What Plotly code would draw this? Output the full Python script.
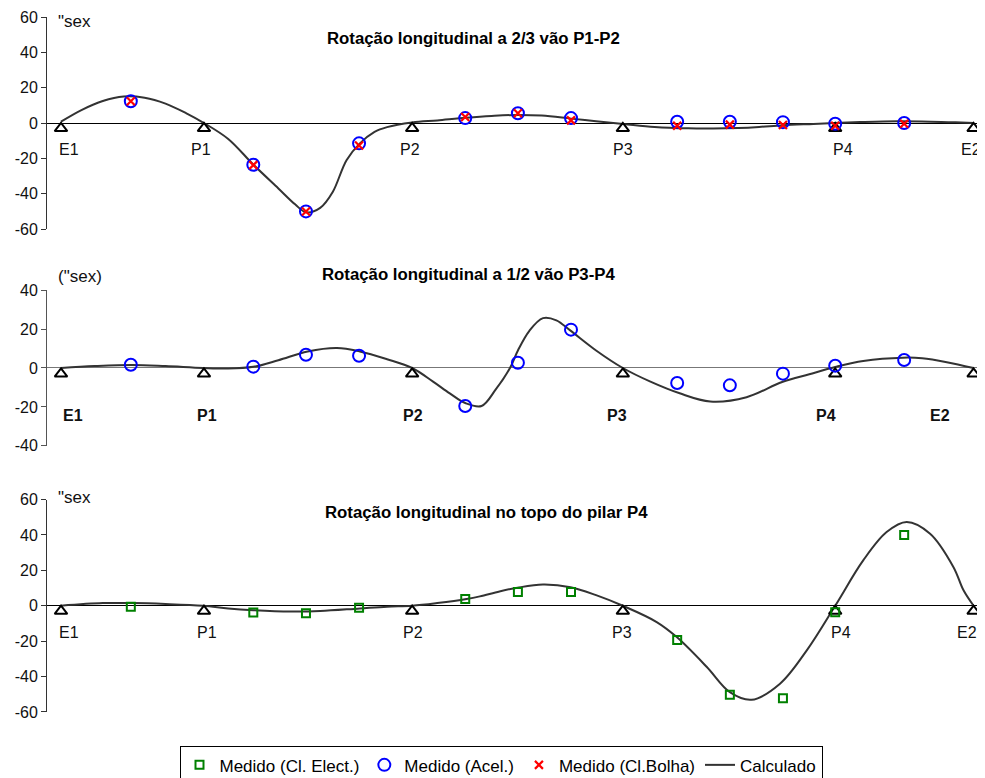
import plotly.graph_objects as go

# ---------------- data ----------------
support_names = ["E1", "P1", "P2", "P3", "P4", "E2"]
support_x = [0, 34.2, 84, 134.4, 185.2, 218.3]
support_marker_y = [-3, -3, -3, -3, -3, -3]

meas_x = [16.7, 46, 58.6, 71.3, 96.7, 109.3, 122, 147.4, 160, 172.7, 185.2, 201.7]

# panel 1 : rotação a 2/3 vão P1-P2
acel1 = [12.3, -23.6, -50, -11.5, 2.8, 5.5, 2.8, 0.7, 0.7, 0.5, -0.4, 0]
bolha1 = [12.3, -23.8, -50, -12.7, 3.4, 5.5, 1.5, -1.5, -0.9, -1.1, -1.5, -0.4]
calc1_x = [0, 5, 10, 15, 20, 25, 30, 34, 40, 46, 52, 56, 58.6, 62, 65, 68.3, 71.5, 75, 78, 84,
           90, 97, 103, 109, 115, 122, 128, 134.5, 142, 150, 156, 162, 167, 172.7, 180, 185,
           192, 200, 208, 214, 218.3]
calc1_y = [0.8, 7.5, 12.5, 15, 14.3, 11, 5.5, 0.3, -9, -23.5, -37, -46, -50.5, -48, -39, -21,
           -11.5, -5, -2.3, 0.3, 1.5, 3, 4, 4.6, 4.2, 2.5, 1, -0.5, -2.2, -3, -3.1, -2.8, -2.2,
           -1.2, -0.5, 0, 0.6, 1.0, 0.8, 0.4, 0]

# panel 2 : rotação a 1/2 vão P3-P4
acel2 = [1.7, 0.7, 6.8, 6.3, -19.5, 2.7, 19.7, -7.7, -8.9, -2.9, 1.2, 4.1]
calc2_x = [0, 8, 17, 25, 34, 40, 46, 52, 59, 66, 71.5, 78, 84, 89, 93, 96.7, 100.6, 104, 107.4,
           109.3, 112, 115.3, 118.5, 121.8, 128, 134.4, 141, 148, 155.3, 164, 172.5, 179, 185.2,
           191.9, 201.4, 206, 211.9, 218.3]
calc2_y = [0, 1.0, 1.6, 1.0, 0, -0.3, 0.6, 4, 8.5, 10.3, 8.5, 4.5, 0, -7, -13, -18, -19.5, -11, 0,
           9, 19, 25.6, 24.5, 19.3, 9, 0, -7, -13, -17.2, -15, -7.2, -3.2, 0.5, 3.6, 5.3, 5, 3, 0]

# panel 3 : rotação no topo do pilar P4
elect3 = [-0.6, -3.8, -4.3, -1.1, 3.8, 7.7, 7.7, -19.4, -50.3, -52.3, -3.6, 39.9]
calc3_x = [0, 10, 17, 25, 34, 40, 46, 55, 62, 71.5, 78, 84, 90, 97, 100.2, 104.9, 109.2, 115.3,
           121.9, 128, 134.4, 142.5, 147.3, 154.5, 160, 165.2, 172, 178.4, 185.2, 191.9, 197.5,
           202.3, 207.9, 213.5, 215.9, 218.3]
calc3_y = [0, 1.5, 1.5, 1, 0, -1.5, -2.5, -3.3, -3, -1.5, -0.5, 0, 1.5, 3.8, 5.3, 8.1, 10.2, 12,
           10.5, 6, 0, -9.2, -17.7, -34.6, -48.8, -53.1, -44, -25.2, 0, 25.6, 41.6, 47.3, 40.7,
           21.8, 8.7, 0]

titles = ["Rotação longitudinal a 2/3 vão P1-P2",
          "Rotação longitudinal a 1/2 vão P3-P4",
          "Rotação longitudinal no topo do pilar P4"]
unit_labels = ['"sex', '("sex)', '"sex']

ticks_60 = [60, 40, 20, 0, -20, -40, -60]
ticks_60_text = ["60", "40", "20", "0", "-20", "-40", "-60"]
ticks_40 = [40, 20, 0, -20, -40]
ticks_40_text = ["40", "20", "0", "-20", "-40"]

# label positions (layout)
label_x = [
    [1.9, 33.5, 83.5, 134.4, 187.1, 217.6],
    [2.75, 35, 84.2, 132.9, 183, 210.3],
    [2, 35, 84.2, 134.2, 186.7, 216.7],
]
label_y = [-15, -24.3, -15]

# ---------------- figure ----------------
FONT = "Arial, Liberation Sans, sans-serif"
OFF = 8                       # default page body margin
W, H = 985 - OFF, 778 - OFF
PL, PR, PT, PB = 47, 979, 17, 711.7   # plot area in reference pixels
ML, MR, MT, MB = PL - OFF, W - (PR - OFF), PT - OFF, H - (PB - OFF)
plot_h = PB - PT
plot_w = PR - PL


def py(px):  # reference pixel y -> paper fraction
    return (PB - px) / plot_h


def pxx(px):
    return (px - PL) / plot_w


domains = [[py(229), 1.0], [py(445.7), py(290)], [0.0, py(499.3)]]

fig = go.Figure()

line_style = dict(color="#333333", width=2, shape="spline", smoothing=1.0)

calc_sets = [(calc1_x, calc1_y), (calc2_x, calc2_y), (calc3_x, calc3_y)]
for i, (cx, cy) in enumerate(calc_sets):
    ax = "" if i == 0 else str(i + 1)
    fig.add_trace(go.Scatter(x=cx, y=cy, mode="lines", line=line_style, name="Calculado",
                             legendgroup="calc", showlegend=(i == 0), legendrank=4,
                             xaxis="x" + ax, yaxis="y" + ax))
    fig.add_trace(go.Scatter(x=support_x, y=support_marker_y, mode="markers",
                             marker=dict(symbol="triangle-up-open", size=11, color="black",
                                         line=dict(width=2, color="black")),
                             showlegend=False, xaxis="x" + ax, yaxis="y" + ax))

circle = dict(symbol="circle-open", size=12, color="#0000FF", line=dict(width=2, color="#0000FF"))
cross = dict(symbol="x-thin-open", size=8, color="#FF0000", line=dict(width=2.2, color="#FF0000"))
square = dict(symbol="square-open", size=8, color="#008000", line=dict(width=2, color="#008000"))

fig.add_trace(go.Scatter(x=meas_x, y=elect3, mode="markers", marker=square,
                         name="Medido (Cl. Elect.)", legendrank=1, xaxis="x3", yaxis="y3"))
fig.add_trace(go.Scatter(x=meas_x, y=acel1, mode="markers", marker=circle,
                         name="Medido (Acel.)", legendgroup="acel", legendrank=2,
                         xaxis="x", yaxis="y"))
fig.add_trace(go.Scatter(x=meas_x, y=acel2, mode="markers", marker=circle,
                         name="Medido (Acel.)", legendgroup="acel", showlegend=False,
                         xaxis="x2", yaxis="y2"))
fig.add_trace(go.Scatter(x=meas_x, y=bolha1, mode="markers", marker=cross,
                         name="Medido (Cl.Bolha)", legendrank=3, xaxis="x", yaxis="y"))

xr = [-3.35, 219.6]
xaxis_style = dict(range=xr, visible=False, showgrid=False, zeroline=False)
yaxis_common = dict(showgrid=False, showline=True, linewidth=1, ticks="outside", ticklen=5,
                    tickwidth=1, zeroline=True, zerolinewidth=1, automargin=False,
                    tickfont=dict(family=FONT, size=16, color="#111111"))

layout = dict(
    width=W, height=H,
    margin=dict(l=ML, r=MR, t=MT, b=MB, autoexpand=False),
    paper_bgcolor="white", plot_bgcolor="white",
    font=dict(family=FONT, size=16, color="black"),
    showlegend=True,
    legend=dict(orientation="h", x=pxx(501), xanchor="center", y=py(746),
                yanchor="top", bordercolor="black", borderwidth=1, bgcolor="white",
                font=dict(family=FONT, size=17, color="black"), itemwidth=30,
                tracegroupgap=0),
    xaxis=dict(domain=[0, 1], anchor="y", **xaxis_style),
    xaxis2=dict(domain=[0, 1], anchor="y2", **xaxis_style),
    xaxis3=dict(domain=[0, 1], anchor="y3", **xaxis_style),
    yaxis=dict(domain=domains[0], anchor="x", range=[-60, 60], tickvals=ticks_60,
               ticktext=ticks_60_text, linecolor="#333333", tickcolor="#333333",
               zerolinecolor="black", **yaxis_common),
    yaxis2=dict(domain=domains[1], anchor="x2", range=[-40, 40], tickvals=ticks_40,
                ticktext=ticks_40_text, linecolor="#555555", tickcolor="#555555",
                zerolinecolor="#777777", **yaxis_common),
    yaxis3=dict(domain=domains[2], anchor="x3", range=[-60, 60], tickvals=ticks_60,
                ticktext=ticks_60_text, linecolor="#333333", tickcolor="#333333",
                zerolinecolor="black", **yaxis_common),
)
fig.update_layout(**layout)

annotations = []
title_px = [(473.5, 38), (468.5, 274), (486, 512)]
unit_px = [(56, 21), (56, 276), (56, 497)]
for i in range(3):
    ax = "" if i == 0 else str(i + 1)
    tx, ty = title_px[i]
    annotations.append(dict(text="<b>" + titles[i] + "</b>", xref="paper", yref="paper",
                            x=pxx(tx), y=py(ty), xanchor="center", yanchor="middle",
                            showarrow=False, font=dict(family=FONT, size=16.8, color="black")))
    ux, uy = unit_px[i]
    annotations.append(dict(text=unit_labels[i], xref="paper", yref="paper",
                            x=pxx(ux), y=py(uy), xanchor="left", yanchor="middle",
                            showarrow=False, font=dict(family=FONT, size=17, color="#111111")))
    for name, lx in zip(support_names, label_x[i]):
        txt = "<b>" + name + "</b>" if i == 1 else name
        annotations.append(dict(text=txt, xref="x" + ax, yref="y" + ax, x=lx, y=label_y[i],
                                xanchor="center", yanchor="middle", showarrow=False,
                                font=dict(family=FONT, size=16, color="#111111")))
fig.update_layout(annotations=annotations)

fig.write_html("out.html")
